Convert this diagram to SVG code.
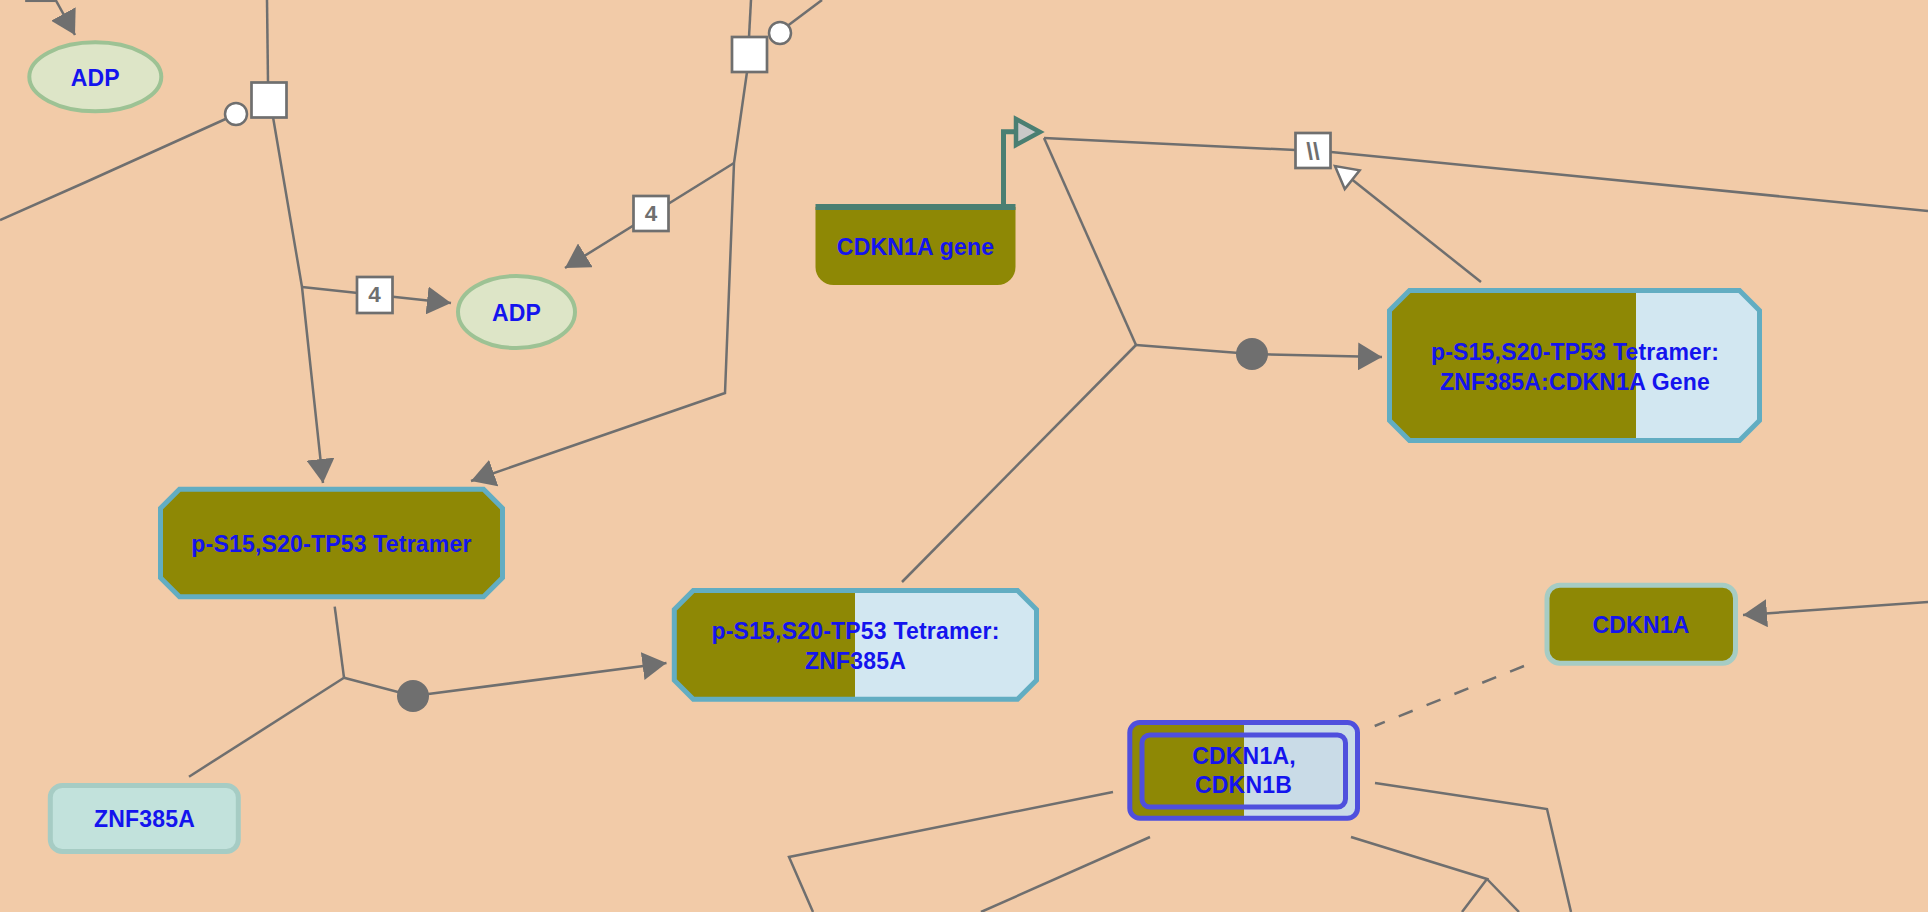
<svg xmlns="http://www.w3.org/2000/svg" width="1928" height="912" viewBox="0 0 1928 912">
<defs>
<style>
.ln{fill:none;stroke:#6F6F6F;stroke-width:2.5}
.dash{stroke-dasharray:15 15}
.arr{marker-end:url(#ah)}
.open{marker-end:url(#oh)}
.lbl{font-family:"Liberation Sans",Arial,sans-serif;font-weight:bold;font-size:23px;fill:#1414EE;text-anchor:middle;letter-spacing:0.2px}
.num{font-family:"Liberation Sans",Arial,sans-serif;font-weight:bold;font-size:22.5px;fill:#6F6F6F;text-anchor:middle}
.box{fill:#FFFFFF;stroke:#6F6F6F;stroke-width:2.7}
.cat{fill:#FFFFFF;stroke:#6F6F6F;stroke-width:2.5}
.dot{fill:#6F6F6F}
.olive{fill:#8E8805}
.lblue{fill:#D2E7F1}
.cx{fill:none;stroke:#62ADC2;stroke-width:5}
.chem{fill:#DDE5C7;stroke:#9DC294;stroke-width:4}
.prot{stroke:#A6CCC4;stroke-width:5}
.set{fill:none;stroke:#4F4FDD;stroke-width:5}
</style>
<marker id="ah" markerUnits="userSpaceOnUse" viewBox="0 0 24 28" refX="24" refY="14" markerWidth="24" markerHeight="28" orient="auto"><path d="M0,0 L24,14 L0,28 Z" fill="#6F6F6F"/></marker>
<marker id="oh" markerUnits="userSpaceOnUse" viewBox="-2 -2 28 30" refX="23" refY="13" markerWidth="28" markerHeight="30" orient="auto"><path d="M1,1 L23,13 L1,25 Z" fill="#FFFFFF" stroke="#6F6F6F" stroke-width="2.5"/></marker>
</defs>
<rect x="0" y="0" width="1928" height="912" fill="#F2CBA8"/>

<g id="connectors">
<path class="ln arr" d="M54,-3 L75,35"/>
<path class="ln" d="M267,0 L268,82"/>
<path class="ln" d="M0,220 L86,182 L230,117"/>
<path class="ln arr" d="M273,117 L302,287 L323,483"/>
<path class="ln arr" d="M302,287 L451,303"/>
<path class="ln" d="M751,0 L749,37"/>
<path class="ln" d="M786,27 L822,0"/>
<path class="ln arr" d="M747,72 L734,163 L725,393 L471,481"/>
<path class="ln arr" d="M734,163 L565,268"/>
<path class="ln" d="M1044,138 L1136,345"/>
<path class="ln" d="M902,582 L1136,345"/>
<path class="ln arr" d="M1136,345 L1252,354 L1382,357"/>
<path class="ln" d="M1044,138 L1295.5,150 L1331,152 L1928,211"/>
<path class="ln open" d="M1481,282 L1335,166"/>
<path class="ln" d="M334.7,606.7 L344,677.7"/>
<path class="ln" d="M189,776.7 L344,677.7"/>
<path class="ln arr" d="M344,677.7 L413,696 L666.5,663"/>
<path class="ln dash" d="M1524,666 L1374.7,726"/>
<path class="ln arr" d="M1928,602 L1743,615"/>
<path class="ln" d="M1113,792 L789,857 L813,912"/>
<path class="ln" d="M1150,837 L981,912"/>
<path class="ln" d="M1375,783 L1547,809 L1571,912"/>
<path class="ln" d="M1351,837 L1487,879 L1462,912"/>
<path class="ln" d="M1487,879 L1519,912"/>
</g>

<g id="process0"><rect class="box" x="26.5" y="-34.3" width="27.5" height="35"/></g>
<g id="process1"><rect class="box" x="251.5" y="82.5" width="35" height="35"/><circle class="cat" cx="236" cy="114" r="11"/></g>
<g id="process2"><rect class="box" x="732" y="37" width="35" height="35"/><circle class="cat" cx="780" cy="33" r="11"/></g>
<g id="stoich1"><rect class="box" x="357" y="277" width="35.5" height="36"/><text class="num" x="374.5" y="302.3">4</text></g>
<g id="stoich2"><rect class="box" x="633.5" y="196" width="35" height="35"/><text class="num" x="651" y="221">4</text></g>
<g id="process3"><rect class="box" x="1295.5" y="133" width="35" height="35"/><text class="num" x="1313" y="159.5" style="font-size:24px">\\</text></g>
<g id="process4"><circle class="dot" cx="1252" cy="354" r="16"/></g>
<g id="process5"><circle class="dot" cx="413" cy="696" r="16"/></g>

<g id="adp1"><ellipse class="chem" cx="95.3" cy="76.8" rx="66" ry="34.5"/><text class="lbl" x="95.3" y="85.5">ADP</text></g>
<g id="adp2"><ellipse class="chem" cx="516.5" cy="312" rx="58.5" ry="36"/><text class="lbl" x="516.5" y="320.5">ADP</text></g>

<g id="cdkn1a-gene">
<path class="olive" d="M815.5,207 H1015.5 V267 A18,18 0 0 1 997.5,285 H833.5 A18,18 0 0 1 815.5,267 Z"/>
<rect x="815.5" y="204" width="200" height="6" fill="#4A7F72"/>
<polyline points="1003.5,207 1003.5,131.7 1016,131.7" fill="none" stroke="#4A7F72" stroke-width="5"/>
<polygon points="1016,119 1040,132 1016,145" fill="#C8C8C8" stroke="#4A7F72" stroke-width="4.5"/>
<text class="lbl" x="915.5" y="254.5">CDKN1A gene</text>
</g>

<g id="tetramer">
<polygon class="olive" points="179.5,489.2 483.5,489.2 502.5,508.2 502.5,577.8 483.5,596.8 179.5,596.8 160.5,577.8 160.5,508.2"/>
<polygon class="cx" points="179.5,489.2 483.5,489.2 502.5,508.2 502.5,577.8 483.5,596.8 179.5,596.8 160.5,577.8 160.5,508.2"/>
<text class="lbl" x="331.5" y="551.7">p-S15,S20-TP53 Tetramer</text>
</g>

<g id="tetramer-znf385a">
<polygon class="olive" points="693.3,590.5 855,590.5 855,699.2 693.3,699.2 674.3,680.2 674.3,609.5"/>
<polygon class="lblue" points="855,590.5 1017.5,590.5 1036.5,609.5 1036.5,680.2 1017.5,699.2 855,699.2"/>
<polygon class="cx" points="693.3,590.5 1017.5,590.5 1036.5,609.5 1036.5,680.2 1017.5,699.2 693.3,699.2 674.3,680.2 674.3,609.5"/>
<text class="lbl" x="855.5" y="639">p-S15,S20-TP53 Tetramer:</text>
<text class="lbl" x="855.5" y="669">ZNF385A</text>
</g>

<g id="tetramer-znf385a-gene">
<polygon class="olive" points="1409.5,290.5 1636,290.5 1636,440.5 1409.5,440.5 1389.5,420.5 1389.5,310.5"/>
<polygon class="lblue" points="1636,290.5 1739.5,290.5 1759.5,310.5 1759.5,420.5 1739.5,440.5 1636,440.5"/>
<polygon class="cx" points="1409.5,290.5 1739.5,290.5 1759.5,310.5 1759.5,420.5 1739.5,440.5 1409.5,440.5 1389.5,420.5 1389.5,310.5"/>
<text class="lbl" x="1575" y="360">p-S15,S20-TP53 Tetramer:</text>
<text class="lbl" x="1575" y="390">ZNF385A:CDKN1A Gene</text>
</g>

<g id="znf385a">
<rect class="prot" x="50.3" y="785.5" width="188" height="66" rx="12" fill="#C2E2DC"/>
<text class="lbl" x="144.5" y="827">ZNF385A</text>
</g>

<g id="cdkn1a">
<rect class="prot" x="1547" y="585.2" width="188.5" height="78" rx="13" fill="#8E8805"/>
<text class="lbl" x="1641" y="632.7">CDKN1A</text>
</g>

<g id="cdkn1a-cdkn1b">
<path class="olive" d="M1244,722.5 H1139.8 A10,10 0 0 0 1129.8,732.5 V808.2 A10,10 0 0 0 1139.8,818.2 H1244 Z"/>
<path fill="#C9DBE7" d="M1244,722.5 H1347.5 A10,10 0 0 1 1357.5,732.5 V808.2 A10,10 0 0 1 1347.5,818.2 H1244 Z"/>
<rect class="set" x="1129.8" y="722.5" width="227.7" height="95.7" rx="10"/>
<rect class="set" x="1142" y="735" width="203.5" height="72" rx="8"/>
<text class="lbl" x="1244" y="764">CDKN1A,</text>
<text class="lbl" x="1243.5" y="793.3">CDKN1B</text>
</g>
</svg>
